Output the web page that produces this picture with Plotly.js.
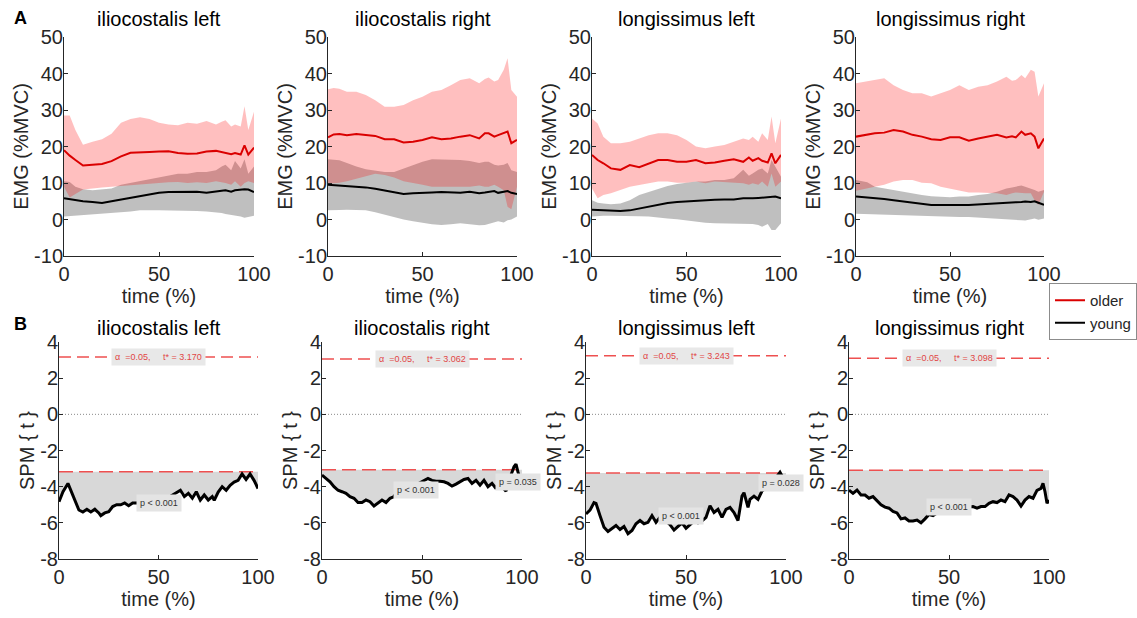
<!DOCTYPE html>
<html><head><meta charset="utf-8">
<script src="https://cdn.plot.ly/plotly-3.0.1.min.js"></script>
<style>html,body{margin:0;padding:0;background:#fff}#chart{width:1137px;height:618px}</style>
</head><body><div id="chart"></div>
<script>
// ---------- DATA ----------
const muscles = ['iliocostalis left', 'iliocostalis right', 'longissimus left', 'longissimus right'];
const groups = ['older', 'young'];

// Panel A: EMG (%MVC) over time (%)
const timeA = [0,3,6,10,15,20,25,30,35,40,45,50,55,60,65,70,75,80,83,85,88,90,93,95,97,100];
const ticksTime = [0, 50, 100];
const ticksEMG = [-10, 0, 10, 20, 30, 40, 50];
const ticksEMGText = ['-10', '0', '10', '20', '30', '40', '50'];
const ticksSPM = [-8, -6, -4, -2, 0, 2, 4];
const ticksSPMText = ['-8', '-6', '-4', '-2', '0', '2', '4'];

const olderMean1 = [19.0,17.5,16.3,14.8,15.0,15.2,16.0,17.3,18.3,18.3,18.5,18.6,18.7,18.2,18.0,18.1,18.6,18.8,18.4,18.3,17.9,18.2,17.8,20.3,17.8,19.7];
const olderUpper1 = [28.5,28.5,24.5,20.5,21.3,22.0,23.5,26.5,27.5,28.0,27.5,26.5,26.0,25.8,26.5,26.2,27.0,26.0,26.8,27.2,25.5,26.0,25.5,31.0,24.5,29.5];
const olderLower1 = [9.0,6.0,7.0,8.2,8.5,8.8,9.0,9.3,9.6,9.8,10.0,10.0,10.2,10.3,10.0,10.2,10.0,10.5,10.2,10.0,9.5,10.5,9.0,10.0,10.5,10.0];
const youngMean1 = [5.8,5.5,5.3,5.0,4.8,4.5,5.0,5.5,6.0,6.5,7.0,7.3,7.5,7.5,7.7,7.6,7.3,7.8,7.9,8.0,7.6,8.0,8.2,8.3,8.2,7.5];
const youngUpper1 = [10.5,10.3,9.0,8.3,8.0,8.2,8.5,9.5,10.0,10.5,11.0,11.5,12.0,12.5,12.5,13.0,13.0,13.5,14.5,15.0,13.5,16.0,14.0,16.5,12.5,14.5];
const youngLower1 = [0.8,0.8,0.9,1.0,1.2,1.5,1.8,2.0,2.2,2.5,2.5,2.5,2.5,2.5,2.4,2.3,2.2,2.0,1.8,1.5,1.2,1.0,0.8,0.5,0.8,1.0];

const olderMean2 = [22.5,23.3,23.4,23.1,23.4,23.1,22.9,22.0,22.0,21.1,21.3,21.8,22.5,22.0,22.2,22.7,23.1,22.2,23.6,23.6,22.7,23.1,23.8,24.1,20.9,21.8];
const olderUpper2 = [35.7,36.0,35.8,35.0,35.0,34.1,32.7,30.9,30.9,31.4,32.7,33.6,35.0,35.5,36.8,38.2,38.7,37.3,38.5,38.9,37.8,38.2,41.0,44.2,35.5,33.6];
const olderLower2 = [9.8,9.9,10.1,10.5,11.0,11.8,12.5,12.2,11.5,10.5,10.0,9.5,9.0,9.0,9.0,9.0,9.0,9.3,9.0,9.0,9.5,9.0,8.0,3.5,2.8,9.0];
const youngMean2 = [9.5,9.4,9.4,9.3,9.0,8.8,8.4,8.0,7.5,7.0,7.2,7.2,7.4,7.5,7.5,7.3,7.6,7.2,7.4,7.5,7.8,7.3,7.5,7.8,7.3,7.0];
const youngUpper2 = [16.5,16.4,16.2,15.5,14.5,13.8,13.3,13.0,13.0,14.0,15.0,15.8,16.5,16.5,16.5,16.3,16.0,15.5,15.8,15.8,15.0,14.8,15.0,15.5,13.5,13.0];
const youngLower2 = [2.5,2.5,2.6,2.7,2.7,2.5,2.0,1.5,0.7,0.0,-0.5,-1.0,-1.3,-1.5,-1.3,-1.0,-1.3,-1.6,-1.5,-1.2,-0.8,-0.5,-0.8,-0.2,0.0,0.8];

const olderMean3 = [17.7,16.3,15.4,14.0,13.6,14.9,14.3,15.4,16.3,16.3,15.8,15.8,16.3,15.4,15.6,16.1,16.5,15.8,17.0,16.1,16.8,16.1,15.6,18.1,15.4,17.7];
const olderUpper3 = [27.7,26.3,22.7,20.9,20.9,21.3,22.2,23.1,23.6,23.6,23.1,21.8,20.0,19.5,20.0,20.4,21.3,22.2,21.8,22.7,21.3,23.6,21.8,28.2,20.9,27.7];
const olderLower3 = [8.5,5.8,6.7,7.2,8.1,9.0,9.5,9.9,10.4,10.4,10.1,10.1,10.4,9.9,10.4,10.4,10.1,9.9,9.5,9.9,9.5,10.4,9.0,12.6,9.0,10.4];
const youngMean3 = [2.7,2.6,2.5,2.3,2.3,2.5,3.0,3.5,4.2,4.5,4.8,5.0,5.2,5.3,5.4,5.5,5.5,5.8,5.7,5.8,5.9,6.0,6.2,6.4,6.3,5.8];
const youngUpper3 = [5.3,4.6,4.4,4.2,4.4,5.3,6.7,7.6,8.5,9.2,9.7,10.1,10.4,10.4,10.8,10.8,11.3,13.6,12.0,12.6,13.6,14.0,12.6,16.3,14.5,11.7];
const youngLower3 = [0.8,0.9,1.0,1.0,1.0,1.0,0.9,0.8,0.6,0.3,0.1,-0.1,-0.5,-0.9,-1.0,-1.0,-1.0,-1.0,-1.2,-1.2,-1.5,-2.0,-1.2,-2.9,-2.9,-1.0];

const olderMean4 = [22.7,23.0,23.3,23.6,23.8,24.5,24.1,23.2,22.7,22.0,21.8,22.5,22.5,21.6,22.2,22.7,23.2,22.5,22.8,22.5,24.1,23.2,23.6,22.7,19.5,22.2];
const olderUpper4 = [37.3,37.6,37.9,38.2,38.7,36.8,35.5,34.6,34.6,33.7,34.6,35.5,36.8,35.5,36.4,36.8,37.8,39.1,38.0,38.2,39.6,38.7,41.0,40.5,33.7,37.3];
const olderLower4 = [7.9,8.2,8.6,9.0,9.5,10.4,10.8,10.8,10.1,9.9,9.0,8.3,7.9,7.4,7.4,7.4,7.2,6.7,7.2,7.4,7.3,7.2,7.2,5.3,4.0,7.6];
const youngMean4 = [6.3,6.2,6.0,5.9,5.6,5.3,5.0,4.7,4.3,4.0,4.0,3.9,4.0,4.0,4.1,4.2,4.3,4.5,4.6,4.7,4.8,4.9,4.8,5.0,4.6,4.0];
const youngUpper4 = [10.8,10.6,10.2,9.0,8.5,8.1,7.6,7.2,6.7,6.4,6.3,6.1,6.3,6.3,6.7,7.0,7.6,8.5,8.8,9.0,9.3,9.0,8.5,8.1,7.6,8.1];
const youngLower4 = [1.6,1.6,1.6,1.6,1.5,1.4,1.3,1.2,1.1,1.0,0.9,0.8,0.7,0.7,0.5,0.3,0.2,0.0,-0.1,-0.1,-0.2,-0.3,0.0,0.3,-0.1,0.3];

// Panel B: SPM{t} trajectories
const timeB1 = [0,2,4.5,6,8,10,12,14,16,18,20,21,23,25,27,29,31,33,35,37,39,45,50,55,61,63,65,67,69,71,73,75,77,78,80,82,84,86,88,90,92,94,96,98,100];
const spmT1 = [-4.83,-4.28,-3.82,-4.2,-4.74,-5.29,-5.4,-5.25,-5.4,-5.25,-5.45,-5.6,-5.45,-5.38,-5.1,-5.0,-5.0,-4.9,-5.05,-4.9,-4.9,-4.8,-4.7,-4.6,-4.2,-4.55,-4.37,-4.64,-4.28,-4.74,-4.46,-4.74,-4.55,-4.75,-4.3,-4.0,-4.2,-3.92,-3.75,-3.65,-3.3,-3.6,-3.3,-3.65,-4.1];

const timeB2 = [0,2,4,6,8,10,12,14,16,18,20,22,24,26,28,30,32,34,36,37,42,47,53,55,57,59,61,63,65,67,69,71,73,75,77,79,81,83,85,87,88,90,92,94,96,97,98,100];
const spmT2 = [-3.36,-3.55,-3.73,-4.0,-4.2,-4.28,-4.37,-4.55,-4.64,-4.88,-4.88,-4.74,-4.83,-5.07,-4.88,-4.74,-4.88,-4.64,-4.55,-4.37,-4.2,-3.9,-3.55,-3.65,-3.7,-3.7,-3.73,-3.82,-3.97,-3.86,-3.73,-3.6,-3.55,-3.82,-3.65,-3.92,-3.65,-4.0,-3.82,-4.1,-3.82,-4.0,-4.25,-3.5,-2.9,-2.75,-3.2,-3.9];

const timeB3 = [0,2,4,5,7,9,11,13,15,17,19,21,23,25,27,29,31,33,35,37,38,40,42,44,46,48,50,52,54,56,58,60,62,64,66,68,70,72,74,76,78,79,81,82,84,86,88,89,91,93,95,97,99,100];
const spmT3 = [-5.51,-5.3,-4.88,-4.92,-5.6,-6.24,-6.48,-6.33,-6.15,-6.37,-6.2,-6.6,-6.42,-6.05,-5.87,-6.05,-5.97,-5.6,-5.97,-5.7,-5.6,-5.9,-6.1,-6.4,-6.2,-6.0,-6.3,-6.1,-5.9,-6.0,-5.9,-5.7,-5.05,-5.43,-5.25,-5.7,-5.25,-5.15,-5.43,-5.87,-4.52,-4.33,-5.15,-4.7,-4.52,-4.7,-4.24,-4.15,-4.0,-3.8,-3.5,-3.2,-3.6,-3.8];

const timeB4 = [0,2,4,6,8,10,12,14,16,18,20,22,24,26,28,30,32,34,36,38,40,42,44,50,56,62,64,66,68,70,72,74,76,78,80,82,84,86,88,90,92,94,96,97,98,99,100];
const spmT4 = [-4.19,-4.37,-4.19,-4.46,-4.46,-4.64,-4.55,-4.77,-5.0,-5.13,-5.19,-5.37,-5.45,-5.78,-5.73,-5.9,-5.9,-5.85,-6.0,-5.78,-5.54,-5.6,-5.45,-5.3,-5.2,-5.1,-5.19,-5.1,-5.1,-4.92,-4.83,-4.88,-4.74,-4.83,-4.46,-4.55,-4.74,-5.07,-4.74,-4.55,-4.64,-4.2,-4.1,-3.82,-4.28,-4.92,-4.74];

const alphaLevel = 0.05;
const criticalT = [3.170, 3.062, 3.243, 3.098];
const clusterP = [['p < 0.001'], ['p < 0.001', 'p = 0.035'], ['p < 0.001', 'p = 0.028'], ['p < 0.001']];

// ---------- LAYOUT / STYLE ----------
const W = 1137, H = 618;
const px2x = p => p / W;
const px2y = p => 1 - p / H;
const topX = [[64,254],[328,517],[592,781],[856,1044]];
const botX = [[59,258],[322,522],[586,786],[849,1049]];
const topY = [37,256], botY = [342,559];
// cluster label placement (time %, t value)
const clusterPos = [[[50,-4.89]], [[47,-4.19],[98,-3.73]], [[47.5,-5.6],[97.5,-3.82]], [[50,-5.11]]];

const RED = 'rgb(218,0,0)';
const AXC = '#262626';
const FONT = 'Liberation Sans, Arial, Helvetica, sans-serif';

const A = [
  [olderMean1, olderUpper1, olderLower1, youngMean1, youngUpper1, youngLower1],
  [olderMean2, olderUpper2, olderLower2, youngMean2, youngUpper2, youngLower2],
  [olderMean3, olderUpper3, olderLower3, youngMean3, youngUpper3, youngLower3],
  [olderMean4, olderUpper4, olderLower4, youngMean4, youngUpper4, youngLower4]
];
const B = [[timeB1, spmT1], [timeB2, spmT2], [timeB3, spmT3], [timeB4, spmT4]];

const traces = [];
const layout = {
  width: W, height: H, margin: {l:0, r:0, t:0, b:0},
  paper_bgcolor: '#fff', plot_bgcolor: 'rgba(0,0,0,0)',
  font: {family: FONT, color: AXC},
  showlegend: true,
  legend: {x: 1, y: px2y(283), xanchor: 'right', yanchor: 'top', traceorder: 'reversed',
    bordercolor: '#8c8c8c', borderwidth: 1, bgcolor: '#fff',
    font: {size: 15, color: '#262626', family: FONT}, tracegroupgap: 0, itemwidth: 30},
  annotations: [], shapes: []
};

function axis(dom, range, tickvals, ticktext, anchor, title, isX) {
  const a = {
    domain: dom, range: range, tickvals: tickvals, ticktext: ticktext, anchor: anchor,
    showline: true, linecolor: AXC, linewidth: 1, ticks: 'inside', ticklen: 4, tickcolor: AXC,
    tickfont: {size: 20, color: AXC, family: FONT}, showgrid: false, zeroline: false,
    title: {text: title, font: {size: 20, color: AXC, family: FONT}, standoff: isX ? 2 : 0},
    fixedrange: true
  };
  if (!isX) a.ticklabelstandoff = -4;
  return a;
}

const rev = a => a.slice().reverse();

for (let i = 0; i < 4; i++) {
  // ---- top row ----
  const n = i + 1;
  const xa = 'x' + (n === 1 ? '' : n), ya = 'y' + (n === 1 ? '' : n);
  layout['xaxis' + (n === 1 ? '' : n)] = axis([px2x(topX[i][0]), px2x(topX[i][1])], [0, 100], ticksTime, ticksTime.map(String), ya, 'time (%)', true);
  layout['yaxis' + (n === 1 ? '' : n)] = axis([px2y(topY[1]), px2y(topY[0])], [-10, 50], ticksEMG, ticksEMGText, xa, 'EMG (%MVC)', false);
  const [om, ou, ol, ym, yu, yl] = A[i];
  traces.push({x: timeA.concat(rev(timeA)), y: yu.concat(rev(yl)), xaxis: xa, yaxis: ya, type: 'scatter', mode: 'lines',
    fill: 'toself', fillcolor: 'rgba(128,128,128,0.5)', line: {width: 0}, hoverinfo: 'skip', showlegend: false});
  traces.push({x: timeA.concat(rev(timeA)), y: ou.concat(rev(ol)), xaxis: xa, yaxis: ya, type: 'scatter', mode: 'lines',
    fill: 'toself', fillcolor: 'rgba(255,0,0,0.25)', line: {width: 0}, hoverinfo: 'skip', showlegend: false});
  traces.push({x: timeA, y: ym, xaxis: xa, yaxis: ya, type: 'scatter', mode: 'lines', name: groups[1],
    line: {color: '#000', width: 2}, showlegend: i === 0});
  traces.push({x: timeA, y: om, xaxis: xa, yaxis: ya, type: 'scatter', mode: 'lines', name: groups[0],
    line: {color: RED, width: 2}, showlegend: i === 0});
  layout.annotations.push({text: muscles[i], xref: 'paper', yref: 'paper', x: px2x((topX[i][0] + topX[i][1]) / 2), y: px2y(19),
    xanchor: 'center', yanchor: 'middle', showarrow: false, font: {size: 20, color: '#000', family: FONT}});

  // ---- bottom row ----
  const m = i + 5;
  const xb = 'x' + m, yb = 'y' + m;
  layout['xaxis' + m] = axis([px2x(botX[i][0]), px2x(botX[i][1])], [0, 100], ticksTime, ticksTime.map(String), yb, 'time (%)', true);
  layout['yaxis' + m] = axis([px2y(botY[1]), px2y(botY[0])], [-8, 4], ticksSPM, ticksSPMText, xb, 'SPM { t }', false);
  const [tb, sb] = B[i];
  const thr = criticalT[i];
  const t0 = tb[0], t1 = tb[tb.length - 1];
  traces.push({x: tb, y: tb.map(() => -thr), xaxis: xb, yaxis: yb, type: 'scatter', mode: 'lines', line: {width: 0},
    hoverinfo: 'skip', showlegend: false});
  traces.push({x: tb, y: sb.map(v => Math.min(v, -thr)), xaxis: xb, yaxis: yb, type: 'scatter', mode: 'lines', line: {width: 0},
    fill: 'tonexty', fillcolor: 'rgb(216,216,216)', hoverinfo: 'skip', showlegend: false});
  traces.push({x: [t0, t1], y: [0, 0], xaxis: xb, yaxis: yb, type: 'scatter', mode: 'lines',
    line: {color: '#8a8a8a', width: 1, dash: '1px,2px'}, hoverinfo: 'skip', showlegend: false});
  traces.push({x: [t0, t1], y: [thr, thr], xaxis: xb, yaxis: yb, type: 'scatter', mode: 'lines',
    line: {color: 'rgb(238,80,80)', width: 1.5, dash: '12px,6px'}, hoverinfo: 'skip', showlegend: false});
  traces.push({x: [t0, t1], y: [-thr, -thr], xaxis: xb, yaxis: yb, type: 'scatter', mode: 'lines',
    line: {color: 'rgb(238,80,80)', width: 1.5, dash: '14px,6px'}, hoverinfo: 'skip', showlegend: false});
  traces.push({x: tb, y: sb, xaxis: xb, yaxis: yb, type: 'scatter', mode: 'lines',
    line: {color: '#000', width: 3}, hoverinfo: 'skip', showlegend: false});
  layout.annotations.push({text: 'α\u00a0\u00a0=' + alphaLevel.toFixed(2) + ',\u00a0\u00a0\u00a0\u00a0\u00a0t* = ' + thr.toFixed(3),
    xref: xb, yref: yb, x: 50, y: thr, xanchor: 'center', yanchor: 'middle', showarrow: false,
    font: {size: 9, color: 'rgb(225,70,70)', family: FONT}, bgcolor: 'rgb(232,232,232)', borderpad: 3});
  clusterP[i].forEach((txt, k) => {
    layout.annotations.push({text: txt, xref: xb, yref: yb, x: clusterPos[i][k][0], y: clusterPos[i][k][1],
      xanchor: 'center', yanchor: 'middle', showarrow: false, font: {size: 9, color: '#333', family: FONT},
      bgcolor: 'rgb(228,228,228)', borderpad: 3});
  });
  layout.annotations.push({text: muscles[i], xref: 'paper', yref: 'paper', x: px2x((botX[i][0] + botX[i][1]) / 2), y: px2y(328),
    xanchor: 'center', yanchor: 'middle', showarrow: false, font: {size: 20, color: '#000', family: FONT}});
}
layout.annotations.push({text: '<b>A</b>', xref: 'paper', yref: 'paper', x: px2x(20), y: px2y(18), xanchor: 'center', yanchor: 'middle',
  showarrow: false, font: {size: 18, color: '#000', family: FONT}});
layout.annotations.push({text: '<b>B</b>', xref: 'paper', yref: 'paper', x: px2x(20), y: px2y(324), xanchor: 'center', yanchor: 'middle',
  showarrow: false, font: {size: 18, color: '#000', family: FONT}});

Plotly.newPlot('chart', traces, layout, {staticPlot: true, displayModeBar: false});
</script>
</body></html>
